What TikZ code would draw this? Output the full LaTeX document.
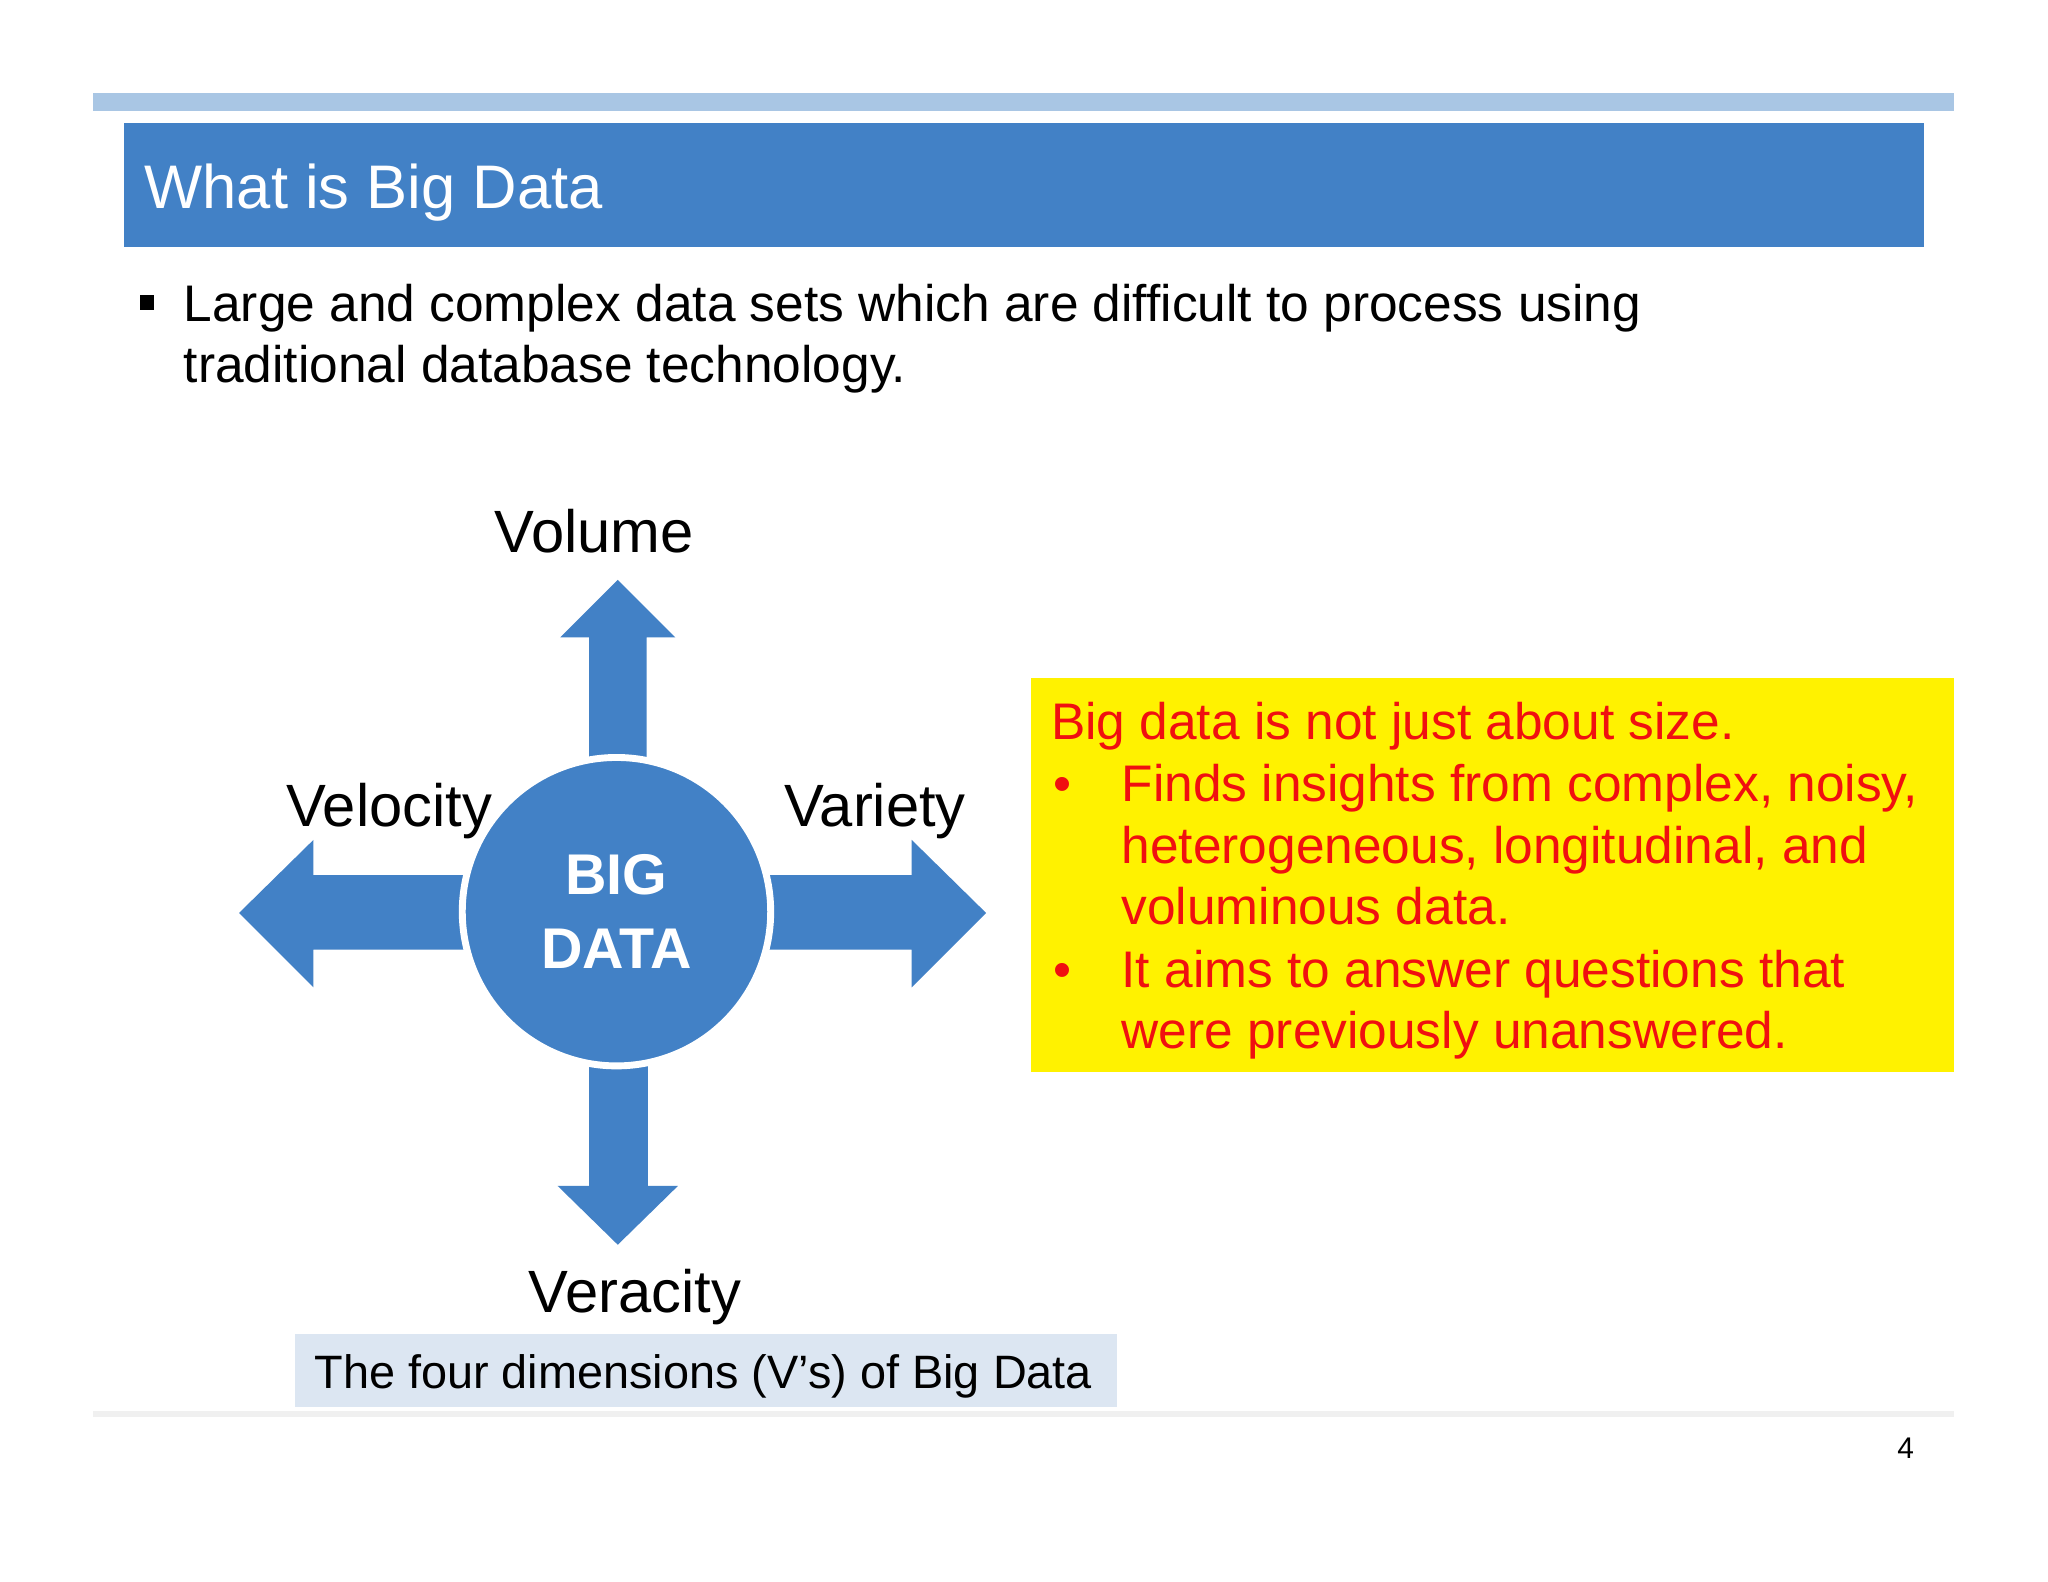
\documentclass[tikz,border=0pt]{standalone}
\usepackage{fontspec}
\setmainfont{Liberation Sans}
\definecolor{bbar}{HTML}{4281C6}
\definecolor{lbar}{HTML}{A9C6E4}
\definecolor{capbg}{HTML}{DCE6F2}
\definecolor{redt}{HTML}{F01010}
\begin{document}
\begin{tikzpicture}[x=0.01cm,y=-0.01cm,
  lbl/.style={inner sep=0pt,anchor=base},
  txt/.style={inner sep=0pt,anchor=base west},
  arr/.style={fill=bbar,draw=none}]
\useasboundingbox (0,0) rectangle (1568,1211);
\fill[white] (0,0) rectangle (1568,1211);
\fill[lbar] (71,71) rectangle (1496,85);
\fill[bbar] (95,94) rectangle (1473,189);
\node[txt,text=white,font=\fontsize{13.4pt}{16pt}\selectfont] (title) at (110,160) {What is Big Data};
\fill[black] (107,226) rectangle (118,237);
\node[txt,font=\fontsize{11.2pt}{13.4pt}\selectfont] (b1) at (140,246) {Large and complex data sets which are difficult to process using};
\node[txt,font=\fontsize{11.2pt}{13.4pt}\selectfont] (b2) at (140,293) {traditional database technology.};
% arrows
\path[arr] (451,590) -- (451,488) -- (429,488) -- (473,444) -- (517,488) -- (495,488) -- (495,590) -- cycle;
\path[arr] (360,670) -- (240,670) -- (240,643) -- (183,699) -- (240,756) -- (240,727) -- (360,727) -- cycle;
\path[arr] (585,670) -- (698,670) -- (698,643) -- (755,699) -- (698,756) -- (698,727) -- (585,727) -- cycle;
\path[arr] (451,808) -- (451,908) -- (427,908) -- (473,953) -- (519,908) -- (496,908) -- (496,808) -- cycle;
\node[circle,fill=bbar,draw=white,line width=1.5pt,minimum size=2.36cm,inner sep=0pt] (bd) at (472,698) {};
\node[align=center,text=white,font=\bfseries\fontsize{12.5pt}{16pt}\selectfont] at (bd) {BIG\\DATA};
\node[lbl,font=\fontsize{13pt}{16pt}\selectfont] (vol) at (455,423) {Volume};
\node[lbl,font=\fontsize{13pt}{16pt}\selectfont] (vel) at (298,633) {Velocity};
\node[lbl,font=\fontsize{13pt}{16pt}\selectfont] (var) at (670,633) {Variety};
\node[lbl,font=\fontsize{13pt}{16pt}\selectfont] (ver) at (486,1005) {Veracity};
% yellow box
\fill[yellow] (789,519) rectangle (1496,821);
\begin{scope}[every node/.style={txt,text=redt,font=\fontsize{11.2pt}{13.4pt}\selectfont}]
\node (y1) at (804,566) {Big data is not just about size.};
\node (yb1) at (806,614) {•};
\node (y2) at (858,614) {Finds insights from complex, noisy,};
\node (y3) at (858,661) {heterogeneous, longitudinal, and};
\node (y4) at (858,708) {voluminous data.};
\node (yb2) at (806,756) {•};
\node (y5) at (858,756) {It aims to answer questions that};
\node (y6) at (858,803) {were previously unanswered.};
\end{scope}
\fill[capbg] (226,1021) rectangle (855,1077);
\node[txt,font=\fontsize{10.2pt}{12pt}\selectfont] (cap) at (240,1063) {The four dimensions (V’s) of Big Data};
\fill[black!6] (71,1080) rectangle (1496,1085);
\node[lbl,font=\fontsize{6.5pt}{8pt}\selectfont] (pg) at (1459,1117) {4};
\end{tikzpicture}
\end{document}
